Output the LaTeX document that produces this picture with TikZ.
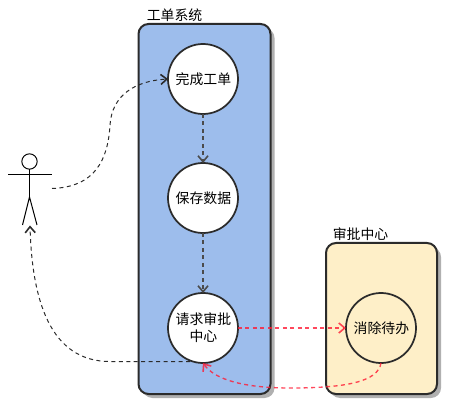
\documentclass[tikz,border=0pt]{standalone}
\usepackage{fontspec}
\setmainfont{Noto Sans CJK SC}
\usetikzlibrary{arrows.meta}
\definecolor{blueb}{HTML}{9DBDEC}
\definecolor{creamb}{HTML}{FEEFC8}
\definecolor{edge}{HTML}{2B2B2B}
\definecolor{shade}{HTML}{B0B0B0}
\definecolor{redl}{HTML}{FF1A33}
\tikzset{
  system/.style={draw=edge,line width=1.5pt,rounded corners=7.5pt,inner sep=0pt,outer sep=0pt,anchor=north west},
  sysshadow/.style={fill=shade,rounded corners=7.5pt,inner sep=0pt,outer sep=0pt,anchor=north west},
  usecase/.style={circle,draw=edge,line width=1.3pt,minimum size=52.5pt,inner sep=0pt,outer sep=0pt,align=center,font=\fontsize{10.4pt}{13pt}\selectfont},
  syslabel/.style={font=\fontsize{10.4pt}{13pt}\selectfont,anchor=west,inner sep=0pt},
  actorline/.style={draw=black,line width=0.75pt},
  flow/.style={draw=edge,line width=0.75pt,dash pattern=on 3pt off 2.6pt,-{Straight Barb[length=4.5pt,width=7.5pt,line width=1.2pt]}},
  downflow/.style={flow,line width=1.1pt,draw=edge!85!white},
  redflow/.style={flow,draw=redl,line width=1pt,draw opacity=.8},
}
\begin{document}
\begin{tikzpicture}[x=0.75pt,y=-0.75pt]
\useasboundingbox (0,0) rectangle (460,409);
% shadows
\node[sysshadow,minimum width=99pt,minimum height=277.5pt] at (142.5,28) {};
\node[sysshadow,minimum width=83.25pt,minimum height=113.25pt] at (330,247) {};
% containers
\node[system,fill=blueb,minimum width=99pt,minimum height=277.5pt] (sysA) at (138.5,24) {};
\node[system,fill=creamb,minimum width=83.25pt,minimum height=113.25pt] (sysB) at (326,243) {};
\node[syslabel] (labA) at (146.5,15) {工单系统};
\node[syslabel] (labB) at (332.5,234) {审批中心};
% use cases
\node[usecase,fill=white] (u1) at (203,79) {\hspace{0.7pt}完成工单};
\node[usecase,fill=white] (u2) at (203,198) {\hspace{0.7pt}保存数据};
\node[usecase,fill=white] (u3) at (203,328) {\hspace{0.7pt}请求审批\\\hspace{0.7pt}中心};
\node[usecase,fill=none] (u4) at (381,328) {\hspace{0.7pt}消除待办};
% actor
\node[circle,draw=black,line width=0.75pt,minimum size=11.5pt,inner sep=0pt,outer sep=0pt] (head) at (29.5,161.5) {};
\coordinate (armL) at (8,175);
\coordinate (armR) at (51.5,175);
\coordinate (hip) at (29.5,197);
\coordinate (legL) at (22.5,225);
\coordinate (legR) at (37,225);
\coordinate (actOut) at (52,188.5);
\coordinate (actIn) at (30,225.5);
\draw[actorline] (head.south) -- (hip);
\draw[actorline] (armL) -- (armR);
\draw[actorline] (legL) -- (hip) -- (legR);
% flows
\coordinate (u3out) at ([xshift=-9.75pt,yshift=1.1pt]u3.south);
\draw[flow] (actOut) .. controls (95,187) and (108,160) .. (110,125)
  .. controls (112,95) and (135,81) .. (u1.west);
\draw[downflow] (u1.south) -- (u2.north);
\draw[downflow] (u2.south) -- (u3.north);
\draw[flow] (u3out) -- (110,361.5) .. controls (50,361.5) and (32,300) .. (actIn);
\draw[redflow] (u3.east) -- (u4.west);
\draw[redflow] (u4.south) .. controls (378,382) and (345,388) .. (290,388)
  .. controls (245,388) and (215,380) .. (u3.south);
\end{tikzpicture}
\end{document}
